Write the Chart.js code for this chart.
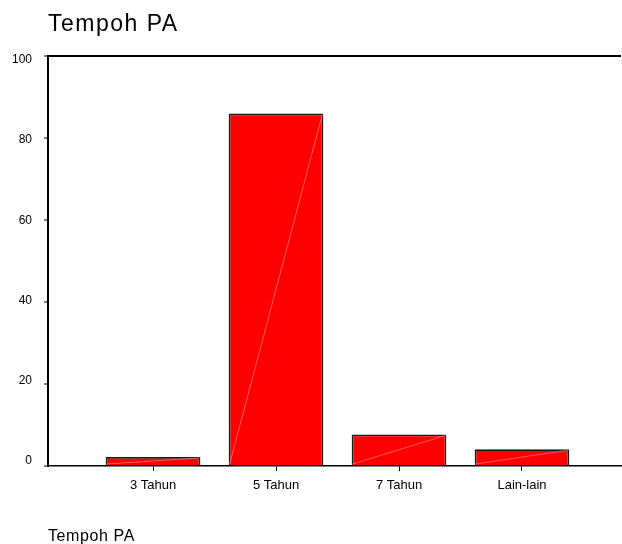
<!DOCTYPE html>
<html>
<head>
<meta charset="utf-8">
<script src="https://cdn.jsdelivr.net/npm/chart.js@4/dist/chart.umd.min.js"></script>
<style>
  html, body { margin: 0; padding: 0; background: #fff; }
  #wrap { width: 622px; height: 544px; position: relative; }
</style>
</head>
<body>
<div id="wrap"><canvas id="tempohChart"></canvas></div>
<script>
// data (percent)
const categories = ["3 Tahun", "5 Tahun", "7 Tahun", "Lain-lain"];
const percentValues = [2.2, 86.0, 7.7, 4.1];
const yTicks = [0, 20, 40, 60, 80, 100];
const chartTitle = "Tempoh PA";
const axisTitle = "Tempoh PA";

const fontFamily = "'Liberation Sans', Arial, sans-serif";

// thin light diagonal inside each bar, like the old SPSS output
const diagonalPlugin = {
  id: "diagonal",
  afterDatasetsDraw(chart) {
    const ctx = chart.ctx;
    const meta = chart.getDatasetMeta(0);
    ctx.save();
    ctx.strokeStyle = "rgba(255,190,190,0.8)";
    ctx.lineWidth = 0.6;
    meta.data.forEach(bar => {
      const p = bar.getProps(["x", "y", "base", "width"], true);
      ctx.beginPath();
      ctx.moveTo(p.x - p.width / 2 + 1, p.base - 1);
      ctx.lineTo(p.x + p.width / 2 - 1, p.y + 1);
      ctx.stroke();
    });
    ctx.restore();
  }
};

// titles drawn by hand so the letter spacing can match the original
const titlesPlugin = {
  id: "titles",
  afterDraw(chart) {
    const ctx = chart.ctx;
    const left = chart.chartArea.left;
    ctx.save();
    ctx.fillStyle = "#000";
    ctx.textAlign = "left";
    ctx.textBaseline = "alphabetic";
    ctx.font = "23px " + fontFamily;
    ctx.letterSpacing = "1.5px";
    ctx.fillText(chartTitle, left, 31);
    ctx.font = "16px " + fontFamily;
    ctx.letterSpacing = "0.6px";
    ctx.fillText(axisTitle, left, 540.5);
    ctx.restore();
  }
};

new Chart(document.getElementById("tempohChart"), {
  type: "bar",
  data: {
    datasets: [{
      label: "Tempoh PA",
      data: categories.map((c, i) => ({ x: i + 1, y: percentValues[i] })),
      backgroundColor: "#ff0000",
      borderColor: "#1a1a1a",
      borderWidth: 1.8,
      categoryPercentage: 1,
      barPercentage: 0.77
    }]
  },
  options: {
    responsive: true,
    maintainAspectRatio: false,
    animation: false,
    layout: { padding: { left: 0, right: 1, top: 56, bottom: 0 } },
    plugins: {
      legend: { display: false },
      tooltip: { enabled: false },
      title: { display: false }
    },
    scales: {
      x: {
        type: "linear",
        min: 0.146,
        max: 4.805,
        offset: false,
        afterBuildTicks: scale => {
          scale.ticks = categories.map((c, i) => ({ value: i + 1 }));
        },
        afterFit: scale => { scale.height = 78; },
        ticks: {
          color: "#000",
          padding: 7,
          font: { family: fontFamily, size: 13 },
          callback: v => categories[v - 1] || ""
        },
        grid: {
          offset: false,
          drawOnChartArea: false,
          tickLength: 5,
          tickColor: "#000",
          tickWidth: 1
        },
        border: { display: true, color: "#000", width: 1.5 }
      },
      // value axis: line, tick marks and the top frame line
      y: {
        min: 0,
        max: 100,
        weight: 0,
        afterBuildTicks: scale => {
          scale.ticks = yTicks.map(v => ({ value: v }));
        },
        afterFit: scale => { scale.width = 12; },
        ticks: { display: false },
        grid: {
          drawOnChartArea: true,
          color: c => (c.tick && c.tick.value === 100 ? "#000" : "rgba(0,0,0,0)"),
          lineWidth: 2,
          tickLength: 4,
          tickColor: "#000",
          tickWidth: 1
        },
        border: { display: true, color: "#000", width: 2 }
      },
      // tick labels sit a little tighter than the marks in the original
      yLabels: {
        type: "linear",
        position: "left",
        min: -1.25,
        max: 100.99,
        weight: 1,
        afterBuildTicks: scale => {
          scale.ticks = yTicks.map(v => ({ value: v }));
        },
        afterFit: scale => { scale.width = 36; },
        ticks: {
          color: "#000",
          padding: 4,
          font: { family: fontFamily, size: 12 }
        },
        grid: { display: false, drawTicks: false },
        border: { display: false }
      }
    }
  },
  plugins: [diagonalPlugin, titlesPlugin]
});
</script>
</body>
</html>
